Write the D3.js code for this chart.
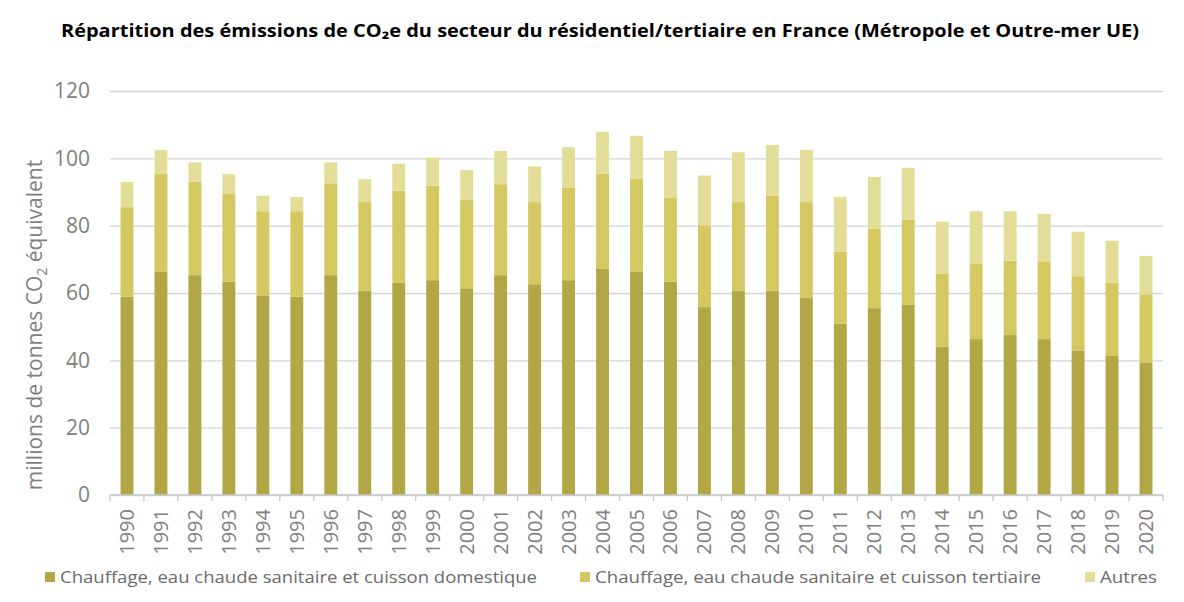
<!DOCTYPE html>
<html>
<head>
<meta charset="utf-8">
<script src="https://cdn.jsdelivr.net/npm/d3@7"></script>
<style>
  body { margin: 0; background: #fff; }
  svg { display: block; }
</style>
</head>
<body>
<svg width="1184" height="602"></svg>
<script>
const years = d3.range(1990, 2021).map(String);

// millions de tonnes CO2e
const domestique = [58.9, 66.4, 65.3, 63.4, 59.3, 58.9, 65.3, 60.7, 63.0, 63.8,
  61.4, 65.3, 62.6, 63.8, 67.2, 66.4, 63.4, 55.8, 60.7, 60.7,
  58.5, 50.9, 55.5, 56.6, 44.1, 46.3, 47.5, 46.3, 42.9, 41.3, 39.4];
const tertiaire = [26.6, 29.0, 27.8, 26.2, 25.0, 25.4, 27.3, 26.3, 27.4, 28.1,
  26.4, 27.0, 24.4, 27.4, 28.2, 27.5, 24.8, 24.3, 26.3, 28.2,
  28.5, 21.3, 23.6, 25.1, 21.7, 22.5, 22.1, 22.9, 22.1, 21.8, 20.2];
const autres = [7.5, 7.1, 5.7, 5.7, 4.6, 4.2, 6.2, 6.8, 8.0, 8.3,
  8.7, 9.9, 10.6, 12.1, 12.5, 12.8, 14.0, 14.8, 14.8, 15.1,
  15.5, 16.3, 15.4, 15.5, 15.4, 15.5, 14.7, 14.3, 13.2, 12.4, 11.4];

const seriesNames = [
  'Chauffage, eau chaude sanitaire et cuisson domestique',
  'Chauffage, eau chaude sanitaire et cuisson tertiaire',
  'Autres'
];
const seriesColors = ['#b1a845', '#d3c960', '#e3de97'];
const yTicks = [0, 20, 40, 60, 80, 100, 120];

const rows = years.map((y, i) => ({year: y, d: domestique[i], t: tertiaire[i], a: autres[i]}));
const stack = d3.stack().keys(['d', 't', 'a'])(rows);

const svg = d3.select('svg');
const margin = {top: 91, right: 21, bottom: 107, left: 110};
const width = +svg.attr('width');
const height = +svg.attr('height');
const innerWidth = width - margin.left - margin.right;
const innerHeight = height - margin.top - margin.bottom;

const g = svg.append('g').attr('transform', `translate(${margin.left},${margin.top})`);

const x = d3.scaleBand().domain(years).range([0, innerWidth]).paddingInner(0.62).paddingOuter(0.31);
const y = d3.scaleLinear().domain([0, 120]).range([innerHeight, 0]);

// title
svg.append('text')
  .attr('x', 600).attr('y', 37)
  .attr('text-anchor', 'middle')
  .attr('font-family', 'Open Sans, sans-serif')
  .attr('font-weight', 'bold')
  .attr('font-size', 17)
  .attr('fill', '#000')
  .attr('textLength', 1078)
  .attr('lengthAdjust', 'spacingAndGlyphs')
  .text('Répartition des émissions de CO₂e du secteur du résidentiel/tertiaire en France (Métropole et Outre-mer UE)');

// gridlines + y labels
const yAxis = d3.axisLeft(y).tickValues(yTicks).tickSize(-innerWidth).tickPadding(20);
const yAxisG = g.append('g').call(yAxis);
yAxisG.select('.domain').remove();
yAxisG.selectAll('.tick line').attr('stroke', '#d4d4d4').attr('stroke-width', 1.3);
yAxisG.selectAll('.tick text')
  .attr('font-family', 'Open Sans, sans-serif')
  .attr('font-size', 21)
  .attr('fill', '#808080');

// bars
g.append('g').selectAll('g')
  .data(stack)
  .join('g')
  .attr('fill', (s, i) => seriesColors[i])
  .selectAll('rect')
  .data(s => s)
  .join('rect')
  .attr('x', d => x(d.data.year))
  .attr('width', x.bandwidth())
  .attr('y', d => y(d[1]))
  .attr('height', d => y(d[0]) - y(d[1]));

// x axis: ticks between the categories
const xAxisG = g.append('g').attr('transform', `translate(0,${innerHeight})`);
xAxisG.append('line').attr('x1', 0).attr('x2', innerWidth).attr('stroke', '#c8c8c8').attr('stroke-width', 1.3);
xAxisG.selectAll('line.sep')
  .data(d3.range(years.length + 1))
  .join('line')
  .attr('class', 'sep')
  .attr('x1', i => i * x.step()).attr('x2', i => i * x.step())
  .attr('y1', 0).attr('y2', 6)
  .attr('stroke', '#c8c8c8').attr('stroke-width', 1.3);
xAxisG.selectAll('text')
  .data(years)
  .join('text')
  .attr('transform', d => `translate(${x(d) + x.bandwidth() / 2 + 7},14) rotate(-90)`)
  .attr('text-anchor', 'end')
  .attr('font-family', 'Open Sans, sans-serif')
  .attr('font-size', 20)
  .attr('fill', '#808080')
  .text(d => d);

// y axis title
const yt = svg.append('text')
  .attr('transform', 'translate(42,325) rotate(-90)')
  .attr('text-anchor', 'middle')
  .attr('font-family', 'Open Sans, sans-serif')
  .attr('font-size', 21)
  .attr('fill', '#7f7f7f');
yt.append('tspan').text('millions de tonnes CO');
yt.append('tspan').attr('font-size', 14).attr('dy', 5).text('2');
yt.append('tspan').attr('dy', -5).text(' équivalent');

// legend
const legendX = [45, 580, 1085];
const legendW = [477, 446, 57];
const leg = svg.append('g').selectAll('g')
  .data(seriesNames)
  .join('g')
  .attr('transform', (d, i) => `translate(${legendX[i]},577)`);
leg.append('rect').attr('x', 0).attr('y', -5).attr('width', 10).attr('height', 10)
  .attr('fill', (d, i) => seriesColors[i]);
leg.append('text')
  .attr('x', 15).attr('y', 6)
  .attr('font-family', 'Open Sans, sans-serif')
  .attr('font-size', 17)
  .attr('fill', '#6b6b6b')
  .attr('textLength', (d, i) => legendW[i])
  .attr('lengthAdjust', 'spacingAndGlyphs')
  .text(d => d);
</script>
</body>
</html>
